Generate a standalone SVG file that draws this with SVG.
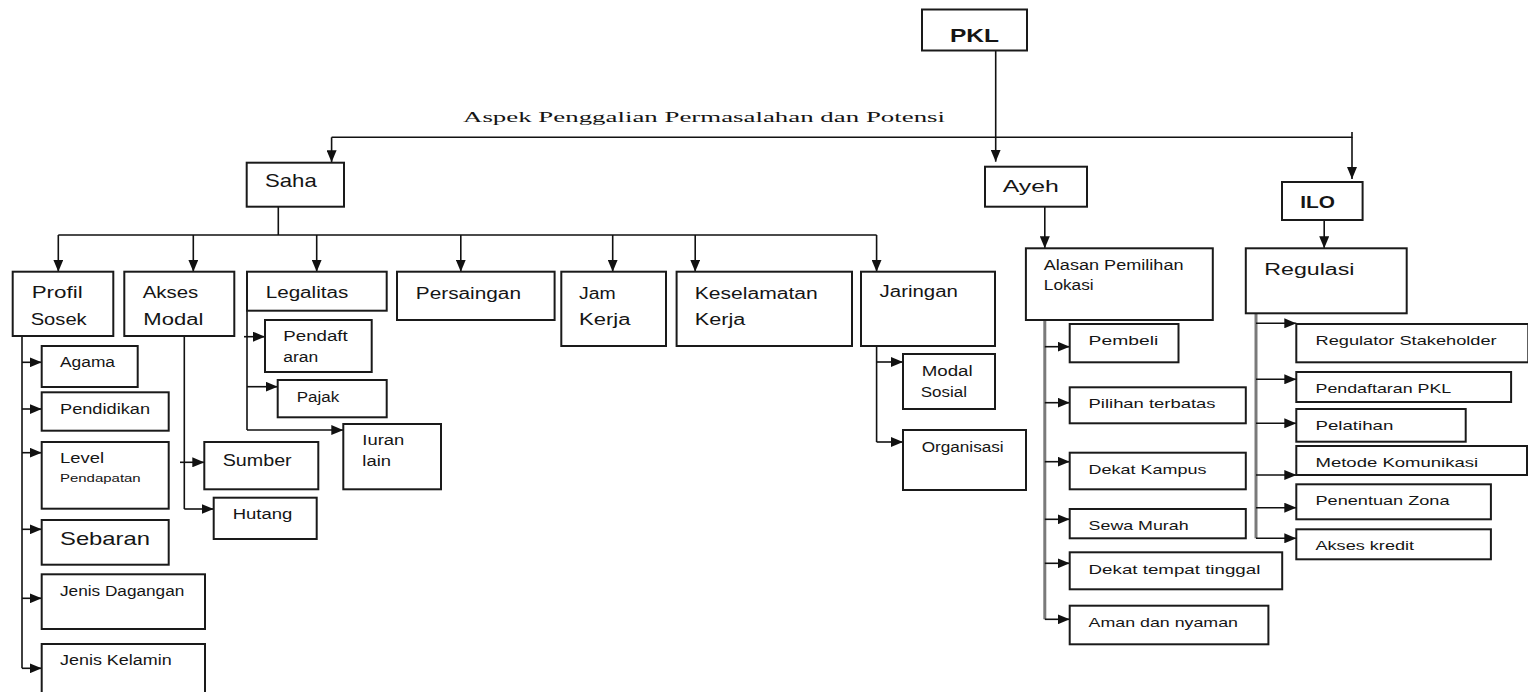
<svg xmlns="http://www.w3.org/2000/svg" width="1528" height="692" viewBox="0 0 1528 692">
<style>
.b{fill:#fff;stroke:#1a1a1a;stroke-width:2}
.c{fill:none;stroke:#111;stroke-width:1.6}
.g{fill:none;stroke:#7a7a7a;stroke-width:3}
.t{font-family:"Liberation Sans",Arial,sans-serif;fill:#151515;font-size:16px}
.s{font-size:14px}
.xs{font-size:13px}
.bd{font-weight:bold}
.sf{font-family:"Liberation Serif","Times New Roman",serif;font-size:15px;fill:#151515}
</style>
<defs>
<marker id="a" markerWidth="12" markerHeight="10" refX="12" refY="5" orient="auto" markerUnits="userSpaceOnUse">
<path d="M0,0 L12,5 L0,10 z" fill="#111"/>
</marker>
</defs>
<rect width="1528" height="692" fill="#fff"/>

<g id="connectors">
<path class="c" d="M995.7,50.7 V161.7" marker-end="url(#a)"/>
<path class="c" d="M331.6,137.3 H1352 V132"/>
<path class="c" d="M331.6,137.3 V162.3" marker-end="url(#a)"/>
<path class="c" d="M1352,137.3 V179" marker-end="url(#a)"/>
<path class="c" d="M278.3,206.7 V235 M58.3,235 H876.6"/>
<path class="c" d="M58.3,235 V271.7" marker-end="url(#a)"/>
<path class="c" d="M193.3,235 V271.7" marker-end="url(#a)"/>
<path class="c" d="M316.7,235 V271.7" marker-end="url(#a)"/>
<path class="c" d="M460.8,235 V271.7" marker-end="url(#a)"/>
<path class="c" d="M612.7,235 V271.7" marker-end="url(#a)"/>
<path class="c" d="M695.2,235 V271.7" marker-end="url(#a)"/>
<path class="c" d="M876.6,235 V271.7" marker-end="url(#a)"/>
<path class="c" d="M22,336 V668.3"/>
<path class="c" d="M22,362.3 H41.7" marker-end="url(#a)"/>
<path class="c" d="M22,409 H41.7" marker-end="url(#a)"/>
<path class="c" d="M22,452.7 H41.7" marker-end="url(#a)"/>
<path class="c" d="M22,529.3 H41.7" marker-end="url(#a)"/>
<path class="c" d="M22,598.3 H41.7" marker-end="url(#a)"/>
<path class="c" d="M22,668.3 H41.7" marker-end="url(#a)"/>
<path class="c" d="M184.3,336 V509"/>
<path class="c" d="M180,462.3 H204.3" marker-end="url(#a)"/>
<path class="c" d="M184.3,509 H213.7" marker-end="url(#a)"/>
<path class="c" d="M247,310.7 V430"/>
<path class="c" d="M244,336.7 H265" marker-end="url(#a)"/>
<path class="c" d="M247,386.7 H277.7" marker-end="url(#a)"/>
<path class="c" d="M247,430 H343.3" marker-end="url(#a)"/>
<path class="c" d="M876.6,346 V442"/>
<path class="c" d="M876.6,362 H903" marker-end="url(#a)"/>
<path class="c" d="M876.6,442 H903" marker-end="url(#a)"/>
<path class="c" d="M1044.8,206.7 V248.3" marker-end="url(#a)"/>
<path class="g" d="M1044.8,320 V619.3"/>
<path class="c" d="M1044.8,346.7 H1069.7" marker-end="url(#a)"/>
<path class="c" d="M1044.8,402.7 H1069.7" marker-end="url(#a)"/>
<path class="c" d="M1044.8,461.7 H1069.7" marker-end="url(#a)"/>
<path class="c" d="M1044.8,519.3 H1069.7" marker-end="url(#a)"/>
<path class="c" d="M1044.8,563.3 H1069.7" marker-end="url(#a)"/>
<path class="c" d="M1044.8,619.3 H1069.7" marker-end="url(#a)"/>
<path class="c" d="M1324.2,220 V248.3" marker-end="url(#a)"/>
<path class="g" d="M1256,311 V538.3"/>
<path class="c" d="M1256,323.3 H1296.3" marker-end="url(#a)"/>
<path class="c" d="M1256,379.3 H1296.3" marker-end="url(#a)"/>
<path class="c" d="M1256,423.3 H1296.3" marker-end="url(#a)"/>
<path class="c" d="M1256,475 H1296.3" marker-end="url(#a)"/>
<path class="c" d="M1256,507.7 H1296.3" marker-end="url(#a)"/>
<path class="c" d="M1256,538.3 H1296.3" marker-end="url(#a)"/>
</g>

<text class="sf" x="463" y="121.7" textLength="482" lengthAdjust="spacingAndGlyphs">Aspek Penggalian Permasalahan dan Potensi</text>

<g id="pkl"><rect class="b" x="922" y="9.5" width="105" height="41"/><text class="t bd" style="font-size:19px" x="950" y="41.7" textLength="49" lengthAdjust="spacingAndGlyphs">PKL</text></g>
<g id="saha"><rect class="b" x="246.7" y="162.7" width="97.3" height="44"/><text class="t" style="font-size:18.5px" x="265" y="186.7" textLength="51.7" lengthAdjust="spacingAndGlyphs">Saha</text></g>
<g id="ayeh"><rect class="b" x="985" y="166.7" width="102" height="40"/><text class="t" style="font-size:17px" x="1002.7" y="192.3" textLength="56.2" lengthAdjust="spacingAndGlyphs">Ayeh</text></g>
<g id="ilo"><rect class="b" x="1282" y="182" width="80.6" height="38"/><text class="t bd" x="1300.3" y="207.7" textLength="34.7" lengthAdjust="spacingAndGlyphs">ILO</text></g>

<g id="profil"><rect class="b" x="12.7" y="271.7" width="100.6" height="64.3"/><text class="t" x="31.7" y="298.3" textLength="51" lengthAdjust="spacingAndGlyphs">Profil</text><text class="t" x="30.7" y="325" textLength="56" lengthAdjust="spacingAndGlyphs">Sosek</text></g>
<g id="akses"><rect class="b" x="124.3" y="271.7" width="110" height="64.3"/><text class="t" x="142.7" y="298" textLength="55.6" lengthAdjust="spacingAndGlyphs">Akses</text><text class="t" x="143.3" y="325" textLength="60" lengthAdjust="spacingAndGlyphs">Modal</text></g>
<g id="legalitas"><rect class="b" x="247" y="271.7" width="139.7" height="39"/><text class="t" x="265.7" y="298" textLength="82.6" lengthAdjust="spacingAndGlyphs">Legalitas</text></g>
<g id="persaingan"><rect class="b" x="397" y="271.7" width="157.6" height="48.3"/><text class="t" x="415.8" y="299" textLength="105.2" lengthAdjust="spacingAndGlyphs">Persaingan</text></g>
<g id="jam"><rect class="b" x="561.3" y="271.7" width="104.7" height="74.3"/><text class="t" x="579" y="299" textLength="36.7" lengthAdjust="spacingAndGlyphs">Jam</text><text class="t" x="579" y="325" textLength="51.4" lengthAdjust="spacingAndGlyphs">Kerja</text></g>
<g id="keselamatan"><rect class="b" x="676.6" y="271.7" width="175.4" height="74.3"/><text class="t" x="694.8" y="299" textLength="122.9" lengthAdjust="spacingAndGlyphs">Keselamatan</text><text class="t" x="694.8" y="325" textLength="50.5" lengthAdjust="spacingAndGlyphs">Kerja</text></g>
<g id="jaringan"><rect class="b" x="861" y="271.7" width="134" height="74.3"/><text class="t" x="879.6" y="296.7" textLength="78.3" lengthAdjust="spacingAndGlyphs">Jaringan</text></g>

<g id="agama"><rect class="b" x="41.7" y="346" width="96" height="41"/><text class="t s" x="60" y="367.3" textLength="55" lengthAdjust="spacingAndGlyphs">Agama</text></g>
<g id="pendidikan"><rect class="b" x="41.7" y="392.3" width="127" height="38.4"/><text class="t s" x="60" y="414" textLength="90" lengthAdjust="spacingAndGlyphs">Pendidikan</text></g>
<g id="level"><rect class="b" x="41.7" y="442" width="127" height="66.7"/><text class="t s" x="60" y="462.7" textLength="44" lengthAdjust="spacingAndGlyphs">Level</text><text class="t" style="font-size:11.5px" x="60" y="481.7" textLength="80.7" lengthAdjust="spacingAndGlyphs">Pendapatan</text></g>
<g id="sebaran"><rect class="b" x="41.7" y="520" width="127" height="44.7"/><text class="t" style="font-size:18.5px" x="60" y="545" textLength="90" lengthAdjust="spacingAndGlyphs">Sebaran</text></g>
<g id="dagangan"><rect class="b" x="41.7" y="574.3" width="163.3" height="54.7"/><text class="t s" x="60" y="595.7" textLength="124.3" lengthAdjust="spacingAndGlyphs">Jenis Dagangan</text></g>
<g id="kelamin"><rect class="b" x="41.7" y="644" width="163.3" height="56"/><text class="t s" x="60" y="665" textLength="111.7" lengthAdjust="spacingAndGlyphs">Jenis Kelamin</text></g>

<g id="sumber"><rect class="b" x="204.3" y="442" width="114" height="47.3"/><text class="t" x="222.7" y="465.7" textLength="69" lengthAdjust="spacingAndGlyphs">Sumber</text></g>
<g id="hutang"><rect class="b" x="213.7" y="497.7" width="103" height="41.3"/><text class="t s" x="232.7" y="519" textLength="59.6" lengthAdjust="spacingAndGlyphs">Hutang</text></g>

<g id="pendaftaran"><rect class="b" x="265" y="320" width="106.7" height="52"/><text class="t s" x="283.3" y="341" textLength="64.4" lengthAdjust="spacingAndGlyphs">Pendaft</text><text class="t s" x="283.3" y="361.7" textLength="35" lengthAdjust="spacingAndGlyphs">aran</text></g>
<g id="pajak"><rect class="b" x="277.7" y="380" width="109" height="37.3"/><text class="t s" x="296.7" y="401.7" textLength="42.6" lengthAdjust="spacingAndGlyphs">Pajak</text></g>
<g id="iuran"><rect class="b" x="343.3" y="424" width="97.7" height="65.3"/><text class="t s" x="362.3" y="445" textLength="42" lengthAdjust="spacingAndGlyphs">Iuran</text><text class="t s" x="362.3" y="465.7" textLength="28.7" lengthAdjust="spacingAndGlyphs">lain</text></g>

<g id="modalsosial"><rect class="b" x="903" y="354" width="92" height="55"/><text class="t s" x="921.7" y="375.7" textLength="50.9" lengthAdjust="spacingAndGlyphs">Modal</text><text class="t s" x="920.8" y="396.7" textLength="46.2" lengthAdjust="spacingAndGlyphs">Sosial</text></g>
<g id="organisasi"><rect class="b" x="903" y="430" width="123" height="60"/><text class="t s" x="921.7" y="452.3" textLength="82" lengthAdjust="spacingAndGlyphs">Organisasi</text></g>

<g id="alasan"><rect class="b" x="1025.9" y="248.3" width="186.9" height="71.7"/><text class="t s" x="1043.8" y="270" textLength="139.7" lengthAdjust="spacingAndGlyphs">Alasan Pemilihan</text><text class="t s" x="1043.8" y="290" textLength="49.8" lengthAdjust="spacingAndGlyphs">Lokasi</text></g>
<g id="pembeli"><rect class="b" x="1069.7" y="324" width="108.8" height="38.3"/><text class="t xs" x="1088.6" y="345" textLength="69.6" lengthAdjust="spacingAndGlyphs">Pembeli</text></g>
<g id="pilihan"><rect class="b" x="1069.7" y="387.3" width="176.1" height="36"/><text class="t xs" x="1088.6" y="408.3" textLength="126.9" lengthAdjust="spacingAndGlyphs">Pilihan terbatas</text></g>
<g id="kampus"><rect class="b" x="1069.7" y="452.7" width="176.1" height="36.6"/><text class="t xs" x="1088.6" y="474.3" textLength="117.8" lengthAdjust="spacingAndGlyphs">Dekat Kampus</text></g>
<g id="sewa"><rect class="b" x="1069.7" y="509" width="176.1" height="29.3"/><text class="t xs" x="1088.6" y="530" textLength="100" lengthAdjust="spacingAndGlyphs">Sewa Murah</text></g>
<g id="tinggal"><rect class="b" x="1069.7" y="552.3" width="212.5" height="37"/><text class="t xs" x="1088.6" y="574.3" textLength="171.7" lengthAdjust="spacingAndGlyphs">Dekat tempat tinggal</text></g>
<g id="aman"><rect class="b" x="1069.7" y="605.7" width="198.7" height="38.6"/><text class="t xs" x="1088.6" y="627.3" textLength="149.4" lengthAdjust="spacingAndGlyphs">Aman dan nyaman</text></g>

<g id="regulasi"><rect class="b" x="1245.8" y="248.3" width="160.9" height="65"/><text class="t" x="1264.3" y="275" textLength="90.2" lengthAdjust="spacingAndGlyphs">Regulasi</text></g>
<g id="regulator"><rect class="b" x="1296.3" y="324" width="232" height="38.3"/><text class="t xs" x="1315.5" y="345" textLength="181.1" lengthAdjust="spacingAndGlyphs">Regulator Stakeholder</text></g>
<g id="pendpkl"><rect class="b" x="1296.3" y="372" width="214.8" height="30"/><text class="t xs" x="1315.5" y="393.3" textLength="135.7" lengthAdjust="spacingAndGlyphs">Pendaftaran PKL</text></g>
<g id="pelatihan"><rect class="b" x="1296.3" y="409" width="169.4" height="32.7"/><text class="t xs" x="1315.5" y="430" textLength="77.8" lengthAdjust="spacingAndGlyphs">Pelatihan</text></g>
<g id="metode"><rect class="b" x="1296.3" y="446" width="230.7" height="29"/><text class="t xs" x="1315.5" y="467.3" textLength="162.6" lengthAdjust="spacingAndGlyphs">Metode Komunikasi</text></g>
<g id="zona"><rect class="b" x="1296.3" y="484.3" width="194.6" height="35"/><text class="t xs" x="1315.5" y="505" textLength="134" lengthAdjust="spacingAndGlyphs">Penentuan Zona</text></g>
<g id="kredit"><rect class="b" x="1296.3" y="529.3" width="194.6" height="30"/><text class="t xs" x="1315.5" y="550" textLength="98.6" lengthAdjust="spacingAndGlyphs">Akses kredit</text></g>
</svg>
